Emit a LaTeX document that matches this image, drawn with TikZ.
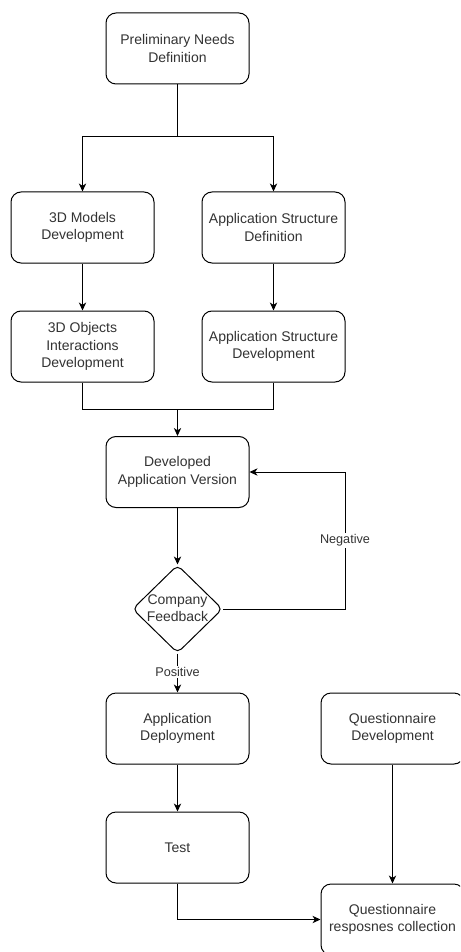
\documentclass[tikz,border=0pt]{standalone}
\usepackage{fontspec}
\setmainfont{Liberation Sans}
\usetikzlibrary{arrows.meta,shapes.geometric}
\definecolor{txt}{HTML}{333333}
\begin{document}
\begin{tikzpicture}[x=0.75pt,y=-0.75pt,
  box/.style={draw=black,line width=0.75pt,rounded corners=7.5pt,fill=white,
    minimum width=107.25pt,minimum height=53.25pt,inner sep=0pt,align=center,
    text=txt,font=\fontsize{10.5pt}{13pt}\selectfont},
  decision/.style={draw=black,line width=0.75pt,diamond,rounded corners=4pt,
    minimum width=67.5pt,minimum height=66pt,inner sep=0pt,text=txt,
    font=\fontsize{10.5pt}{13pt}\selectfont},
  conn/.style={draw=black,line width=0.75pt},
  arr/.style={conn,-{Stealth[length=6pt,width=5.5pt,inset=1.8pt]}},
  lbl/.style={fill=white,inner sep=1pt,text=txt,font=\fontsize{9.5pt}{11pt}\selectfont}]
\useasboundingbox (0,0) rectangle (460,952);
\clip (0,0) rectangle (460,952);
\node[box] (pnd) at (177.5,48.5) {Preliminary Needs\\Definition};
\node[box] (m3d) at (82.5,227.5) {3D Models\\Development};
\node[box] (asd) at (273.5,227.5) {Application Structure\\Definition};
\node[box] (oid) at (82.5,346.5) {3D Objects\\Interactions\\Development};
\node[box] (asdev) at (273.5,346.5) {Application Structure\\Development};
\node[box] (dav) at (177.5,472) {Developed\\Application Version};
\node[decision] (cf) at (177.5,609) {\makebox[0pt]{\raisebox{-2.9pt}[0pt][0pt]{\begin{tabular}{@{}c@{}}Company\\Feedback\end{tabular}}}};
\node[box] (ad) at (177.5,728.5) {Application\\Deployment};
\node[box] (qd) at (392.5,728.5) {Questionnaire\\Development};
\node[box] (test) at (177.5,847.5) {Test};
\node[box] (qrc) at (392.5,919.5) {Questionnaire\\resposnes collection};
\coordinate (split) at (177.5,137);
\coordinate (merge) at (177.5,409);
\coordinate (loop) at (345,609);
\draw[conn] (pnd.south) -- (split);
\draw[arr] (split) -| (m3d.north);
\draw[arr] (split) -| (asd.north);
\draw[arr] (m3d) -- (oid);
\draw[arr] (asd) -- (asdev);
\draw[conn] (oid.south) |- (merge);
\draw[conn] (asdev.south) |- (merge);
\draw[arr] (merge) -- (dav.north);
\draw[arr] (dav) -- (cf.north);
\draw[arr] (cf.east) -- (loop) |- node[lbl,pos=0.25]{Negative} (dav.east);
\draw[arr] (cf.south) -- node[lbl,pos=0.48]{Positive} (ad.north);
\draw[arr] (ad) -- (test);
\draw[arr] (qd) -- (qrc);
\draw[arr] (test.south) |- (qrc.west);
\end{tikzpicture}
\end{document}
